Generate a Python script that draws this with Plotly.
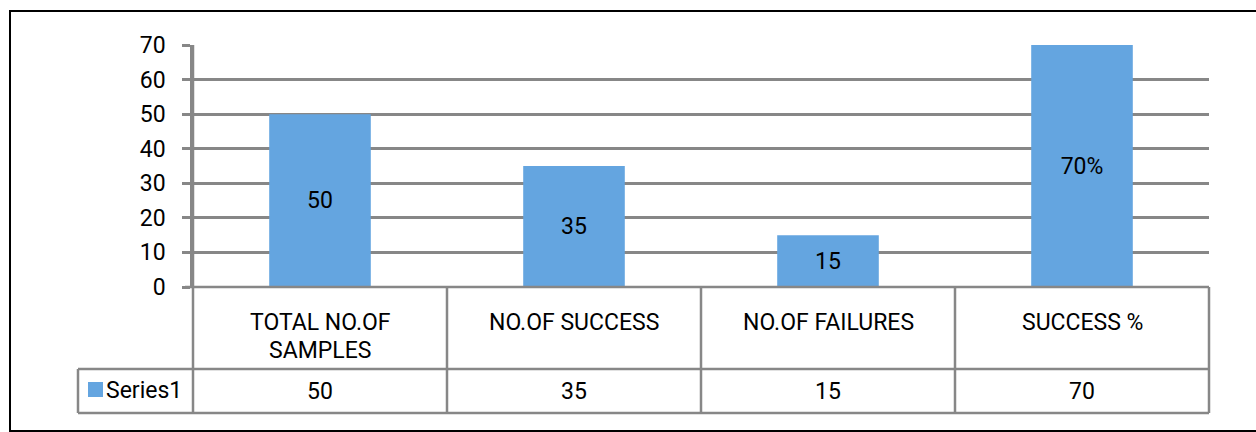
import plotly.graph_objects as go

categories = ["TOTAL NO.OF SAMPLES", "NO.OF SUCCESS", "NO.OF FAILURES", "SUCCESS %"]
cat_line1 = ["TOTAL NO.OF", "NO.OF SUCCESS", "NO.OF FAILURES", "SUCCESS %"]
cat_line2 = ["SAMPLES", "", "", ""]
values = [50, 35, 15, 70]
bar_labels = ["50", "35", "15", "70%"]
series_name = "Series1"

W, H = 1256, 432
L, R, T, B = 193, 47, 45, 145
pw, ph = W - L - R, H - T - B

def px(x):
    return (x - L) / pw

def py(y):
    return (H - B - y) / ph

FONT = "Roboto, Liberation Sans, sans-serif"
FS = 23
GRAY = "#878787"
BLUE = "#64A5E0"

fig = go.Figure()
fig.add_trace(go.Bar(
    x=categories, y=values, marker=dict(color=BLUE, line=dict(width=0)),
    text=bar_labels, textposition="inside", insidetextanchor="middle",
    textfont=dict(family=FONT, size=FS, color="black"),
    textangle=0, width=0.4, name=series_name, showlegend=False,
))

shapes = []
line = dict(color=GRAY, width=2.5)
shapes.append(dict(type="line", xref="paper", yref="paper", x0=px(185), x1=1, y0=0, y1=0, line=line))
shapes.append(dict(type="line", xref="paper", yref="paper", x0=px(78), x1=1, y0=py(369), y1=py(369), line=line))
shapes.append(dict(type="line", xref="paper", yref="paper", x0=px(78), x1=1, y0=py(413), y1=py(413), line=line))
shapes.append(dict(type="line", xref="paper", yref="paper", x0=px(78), x1=px(78), y0=py(369), y1=py(413), line=line))
for i in range(5):
    shapes.append(dict(type="line", xref="paper", yref="paper", x0=i / 4, x1=i / 4,
                       y0=(1 if i == 0 else 0), y1=py(413), line=line))
shapes.append(dict(type="rect", xref="paper", yref="paper", x0=px(88), x1=px(103), y0=py(382), y1=py(397),
                   fillcolor=BLUE, line=dict(width=0)))
shapes.append(dict(type="rect", xref="paper", yref="paper", x0=px(10), x1=px(1258), y0=py(11), y1=py(431),
                   line=dict(color="black", width=2)))

tf = dict(family=FONT, size=FS, color="black")
annotations = []
for c, l1, l2, v in zip(categories, cat_line1, cat_line2, values):
    annotations.append(dict(x=c, xref="x", yref="paper", y=py(322), text=l1, showarrow=False,
                            font=tf, yanchor="middle"))
    if l2:
        annotations.append(dict(x=c, xref="x", yref="paper", y=py(350), text=l2, showarrow=False,
                                font=tf, yanchor="middle"))
    annotations.append(dict(x=c, xref="x", yref="paper", y=py(391), text=str(v), showarrow=False,
                            font=tf, yanchor="middle"))
annotations.append(dict(x=px(104), xref="paper", yref="paper", y=py(390), text=series_name, showarrow=False,
                        xanchor="left", yanchor="middle", font=tf))

fig.update_layout(
    width=W, height=H, margin=dict(l=L, r=R, t=T, b=B),
    paper_bgcolor="white", plot_bgcolor="white",
    shapes=shapes, annotations=annotations, bargap=0.6,
    font=tf,
    xaxis=dict(showticklabels=False, showline=False, showgrid=False, ticks="", range=[-0.5, 3.5]),
    yaxis=dict(range=[0, 70], dtick=10, showgrid=True, gridcolor=GRAY, gridwidth=2.5,
               showline=True, linecolor=GRAY, linewidth=2.5, ticks="outside", ticklen=8,
               tickcolor=GRAY, tickwidth=2.5, zeroline=False, tickfont=tf,
               ticklabelstandoff=12),
)
fig.update_traces(cliponaxis=False)

fig.write_html("out.html")
